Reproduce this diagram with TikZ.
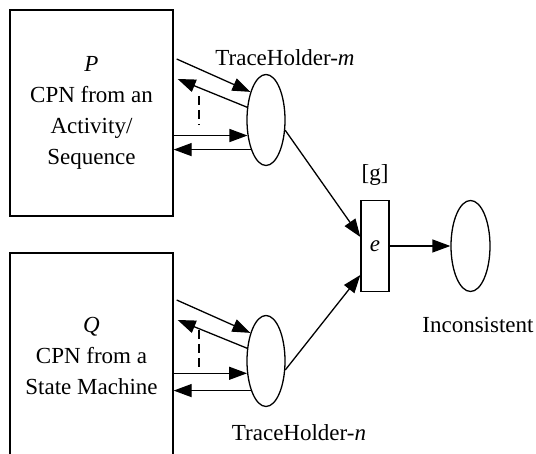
\documentclass[tikz,border=0pt]{standalone}
\usepackage{fontspec}
\setmainfont{Liberation Serif}
\usetikzlibrary{positioning,arrows.meta,shapes.geometric}

\begin{document}
\begin{tikzpicture}[x=0.5pt,y=0.5pt,line width=0.65pt,>={Triangle[length=9pt,width=6.5pt]},
  net/.style={draw,align=center,font=\fontsize{11.5}{15.5}\selectfont,minimum width=81.5pt,minimum height=103pt,inner sep=0pt},
  pl/.style={draw,ellipse,inner sep=0pt,minimum width=19pt,minimum height=45.5pt},
  tr/.style={draw,inner sep=0pt,minimum width=14pt,minimum height=45.5pt,font=\fontsize{11.5}{15.5}\selectfont},
  lbl/.style={inner sep=0pt,anchor=base,font=\fontsize{11.5}{15.5}\selectfont},
  dsh/.style={line width=1pt,dash pattern=on 4.5pt off 2.5pt}]
\useasboundingbox (0,0) rectangle (536,454);
\node[net] (P) at (91.5,341) {\textit{P}\\CPN from an\\Activity/\\Sequence};
\node[net] (Q) at (91.5,98) {\textit{Q}\\CPN from a\\State Machine};
\node[pl] (thm) at (266,334) {};
\node[pl] (thn) at (266,93) {};
\node[tr] (e) at (375,208) {\textit{e}};
\node[pl,minimum width=19.5pt] (inc) at (470.5,208) {};
\node[lbl] at ([xshift=9.5pt,yshift=4pt]thm.north) {TraceHolder-\textit{m}};
\node[lbl] at ([xshift=16.5pt,yshift=-16.75pt]thn.south) {TraceHolder-\textit{n}};
\node[lbl] at ([yshift=9.5pt]e.north) {[g]};
\node[lbl] at ([xshift=3.75pt,yshift=-20.25pt]inc.south) {Inconsistent};
\draw[->] ([xshift=1.5pt,yshift=27pt]P.east)--(thm.119); \draw[->] (thm.146)--([xshift=2pt,yshift=17pt]P.east);
\draw[dsh] ([xshift=12.5pt,yshift=8.5pt]P.east)--([xshift=12.5pt,yshift=-6pt]P.east);
\draw[->] (P.east |- thm.220)--(thm.220); \draw[->] (thm.243)--(P.east |- thm.243);
\draw[->] ([xshift=1.5pt,yshift=28pt]Q.east)--(thn.119); \draw[->] (thn.146)--([xshift=2pt,yshift=18pt]Q.east);
\draw[dsh] ([xshift=12.5pt,yshift=13pt]Q.east)--([xshift=12.5pt,yshift=-5.5pt]Q.east);
\draw[->] (Q.east |- thn.213)--(thn.213); \draw[->] (thn.243)--(Q.east |- thn.243);
\draw[->] (thm.332)--([yshift=4.5pt]e.west); \draw[->] (thn.335)--([yshift=-14.5pt]e.west);
\draw[->] (e)--(inc);
\end{tikzpicture}
\end{document}
